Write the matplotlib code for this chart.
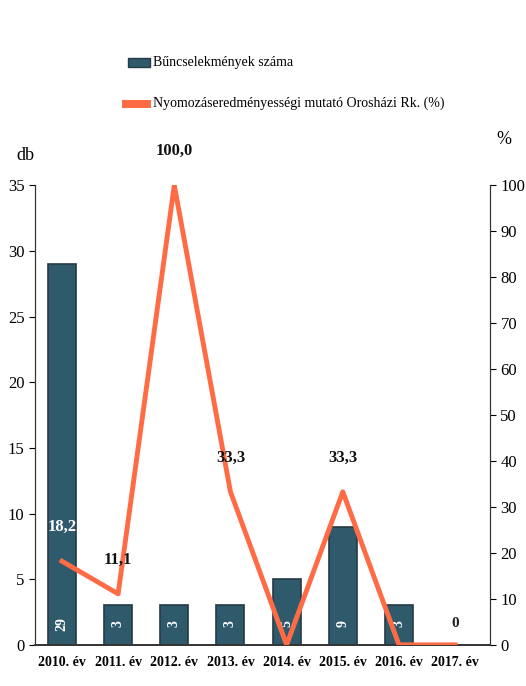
import matplotlib.pyplot as plt
import numpy as np

years = ["2010. év", "2011. év", "2012. év", "2013. év", "2014. év", "2015. év", "2016. év", "2017. év"]
crimes = [29, 3, 3, 3, 5, 9, 3, 0]
rate = [18.2, 11.1, 100.0, 33.3, 0.0, 33.3, 0.0, 0.0]
rate_labels = ["18,2", "11,1", "100,0", "33,3", None, "33,3", None, None]

BAR = "#2e5a6c"
LINE = "#ff6b45"

plt.rcParams["font.family"] = ["Liberation Serif", "DejaVu Serif"]

fig = plt.figure(figsize=(5.26, 6.86), dpi=100)
ax = fig.add_axes([0.0665, 0.06, 0.865, 0.67])
ax2 = ax.twinx()

x = np.arange(len(years))
ax.bar(x, crimes, width=0.5, color=BAR, edgecolor="#263a44", linewidth=1.2, zorder=2)
for xi, v in zip(x, crimes):
    if v > 0:
        ax.text(xi, 1.6, str(v), rotation=90, ha="center", va="center",
                color="white", fontsize=10, fontweight="bold", zorder=3)
    else:
        ax.text(xi, 1.6, "0", ha="center", va="center", color="#222222",
                fontsize=11, fontweight="bold", zorder=3)

ax.set_xlim(-0.48, 7.62)
ax.set_ylim(0, 35)
ax.set_yticks(range(0, 36, 5))
ax.set_xticks(x)
ax.set_xticklabels(years, fontsize=10, fontweight="bold")
ax.tick_params(axis="y", labelsize=12, direction="out", length=4)
ax.tick_params(axis="x", length=0, pad=8)

ax2.plot(x, rate, color=LINE, linewidth=3.5, zorder=4)
ax2.set_ylim(0, 100)
ax2.set_yticks(range(0, 101, 10))
ax2.tick_params(axis="y", labelsize=12, direction="out", length=4)

for xi, v, lab in zip(x, rate, rate_labels):
    if lab is None:
        continue
    col = "white" if xi == 0 else "#111111"
    ax2.text(xi, v + 7.4, lab, ha="center", va="center",
             fontsize=12, fontweight="bold", color=col, zorder=5)

for a in (ax, ax2):
    a.spines["top"].set_visible(False)
    a.spines["left"].set_color("#333333")
    a.spines["right"].set_color("#333333")
    a.spines["bottom"].set_color("#333333")
    a.spines["bottom"].set_linewidth(1.2)

fig.text(0.032, 0.774, "db", fontsize=13, ha="left", va="center")
fig.text(0.958, 0.796, "%", fontsize=13, ha="center", va="center")

# legend drawn by hand near the top
fig.patches.append(plt.Rectangle((0.243, 0.902), 0.042, 0.014, transform=fig.transFigure,
                                 facecolor=BAR, edgecolor="#263a44", linewidth=1))
fig.text(0.29, 0.909, "Bűncselekmények száma", fontsize=10, va="center")
fig.patches.append(plt.Rectangle((0.232, 0.843), 0.055, 0.011, transform=fig.transFigure,
                                 facecolor=LINE, edgecolor="none"))
fig.text(0.29, 0.849, "Nyomozáseredményességi mutató Orosházi Rk. (%)", fontsize=10, va="center")

fig.savefig("out.png", dpi=100)
